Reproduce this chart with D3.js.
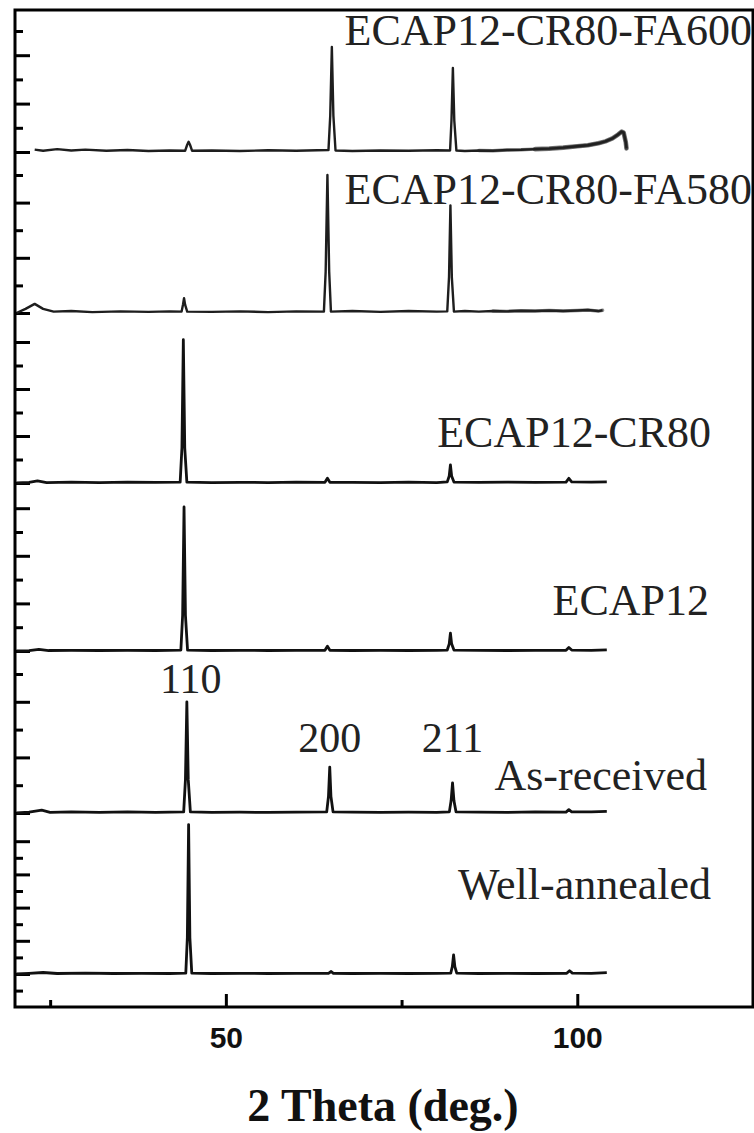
<!DOCTYPE html>
<html>
<head>
<meta charset="utf-8">
<script src="https://cdn.jsdelivr.net/npm/d3@7"></script>
<style>
  html, body { margin: 0; padding: 0; background: #fff; }
  svg { display: block; }
</style>
</head>
<body>
<svg id="chart" width="754" height="1133"></svg>
<script>
// XRD patterns of the steel samples, 2-theta in degrees vs. intensity (a.u.).
// Each trace is a list of [2theta, intensity] points; intensity is in units of
// one left-axis tick of that trace's own layer (0 = background level).

const sampleNames = [
  "ECAP12-CR80-FA600",
  "ECAP12-CR80-FA580",
  "ECAP12-CR80",
  "ECAP12",
  "As-received",
  "Well-annealed"
];

const traceFA600 = [
  [22.8,0.10],[24,0.05],[26,0.12],[28,0.06],[30,0.10],[33,0.05],[36,0.08],[39,0.04],
  [42,0.06],[44.2,0.05],[44.5,0.30],[44.7,0.42],[44.9,0.30],[45.2,0.05],[48,0.06],
  [52,0.04],[56,0.07],[60,0.05],[63,0.07],[64.6,0.08],[64.85,1.5],[65.08,4.34],
  [65.3,1.5],[65.6,0.06],[68,0.04],[72,0.06],[76,0.05],[80,0.07],[81.9,0.06],
  [82.1,1.3],[82.3,3.47],[82.5,1.3],[82.8,0.06],[84,0.04],[86,0.06],[88,0.05],
  [90,0.08],[92,0.09],[94,0.12],[96,0.14],[98,0.18],[100,0.24],[101.5,0.28],
  [103,0.36],[104,0.44],[105,0.56],[105.8,0.72],[106.3,0.84],[106.6,0.80],[106.9,0.40],[107,0.15]
];

const traceFA580 = [
  [20.2,0.00],[21.5,0.15],[22.8,0.33],[24,0.15],[25.5,0.05],[28,0.07],[31,0.03],
  [35,0.06],[39,0.04],[42,0.06],[43.7,0.05],[43.9,0.30],[44.05,0.54],[44.2,0.30],
  [44.5,0.05],[48,0.04],[52,0.06],[56,0.03],[60,0.06],[63.95,0.05],[64.2,1.5],
  [64.45,5.0],[64.7,1.5],[64.95,0.05],[68,0.07],[72,0.04],[76,0.07],[80,0.05],
  [81.5,0.06],[81.75,1.3],[81.95,3.9],[82.15,1.3],[82.45,0.05],[84,0.07],[86,0.05],
  [88,0.07],[90,0.06],[92,0.08],[94,0.07],[96,0.09],[98,0.07],[100,0.09],
  [101.5,0.11],[103,0.07],[103.6,0.10]
];

const traceECAP12CR80 = [
  [20.2,0.00],[22,0.03],[23.2,0.09],[24.5,0.02],[28,0.04],[32,0.02],[36,0.04],
  [40,0.03],[43.5,0.04],[43.75,1.5],[43.95,6.1],[44.15,1.5],[44.45,0.04],[48,0.02],
  [52,0.03],[56,0.02],[60,0.04],[64.1,0.03],[64.45,0.20],[64.8,0.03],[68,0.03],
  [72,0.02],[76,0.04],[80,0.02],[81.5,0.05],[81.78,0.30],[81.95,0.77],[82.12,0.30],
  [82.45,0.04],[86,0.03],[90,0.04],[94,0.03],[98.4,0.04],[98.8,0.20],[99.2,0.05],
  [102,0.04],[104.2,0.05]
];

const traceECAP12 = [
  [20.2,0.00],[22,0.02],[23.4,0.07],[24.8,0.02],[28,0.03],[32,0.02],[36,0.03],
  [40,0.02],[43.6,0.04],[43.85,1.5],[44.05,6.05],[44.25,1.5],[44.55,0.04],[48,0.02],
  [52,0.03],[56,0.02],[60,0.03],[64.1,0.03],[64.45,0.20],[64.8,0.03],[68,0.02],
  [72,0.03],[76,0.02],[80,0.03],[81.5,0.04],[81.78,0.30],[81.95,0.75],[82.12,0.30],
  [82.45,0.04],[86,0.03],[90,0.02],[94,0.03],[98.4,0.03],[98.8,0.15],[99.2,0.04],
  [102,0.03],[104.2,0.05]
];

const traceAsReceived = [
  [20.2,0.00],[22,0.03],[23.8,0.10],[25,0.02],[28,0.04],[32,0.02],[36,0.04],
  [40,0.02],[44.0,0.04],[44.25,1.2],[44.45,4.0],[44.65,1.2],[44.95,0.04],[48,0.02],
  [52,0.03],[56,0.02],[60,0.03],[64.35,0.04],[64.6,0.6],[64.78,1.65],[64.95,0.6],
  [65.25,0.04],[68,0.03],[72,0.02],[76,0.03],[80,0.02],[81.8,0.04],[82.05,0.45],
  [82.25,1.08],[82.45,0.45],[82.75,0.04],[86,0.03],[90,0.02],[94,0.04],[98.4,0.03],
  [98.8,0.12],[99.2,0.04],[102,0.04],[104.2,0.06]
];

const traceWellAnnealed = [
  [20.2,0.00],[22,0.04],[24,0.09],[26,0.03],[30,0.05],[34,0.03],[38,0.04],
  [42,0.03],[44.3,0.05],[44.52,2.2],[44.7,9.0],[44.88,2.2],[45.15,0.05],[48,0.03],
  [52,0.04],[56,0.03],[60,0.04],[64.6,0.04],[64.98,0.15],[65.3,0.04],[68,0.03],
  [72,0.04],[76,0.03],[80,0.04],[82.0,0.05],[82.22,0.45],[82.4,1.15],[82.58,0.45],
  [82.85,0.05],[86,0.03],[90,0.04],[94,0.03],[98.5,0.04],[98.9,0.20],[99.3,0.05],
  [102,0.04],[104.2,0.08]
];

const traces = [traceFA600, traceFA580, traceECAP12CR80, traceECAP12, traceAsReceived, traceWellAnnealed];

// Miller indices marked on the as-received pattern: [label, 2theta]
const reflections = [["110", 44.45], ["200", 64.78], ["211", 82.25]];

const xTickMajor = [50, 100];
const xTickMinor = [25, 75];
const xLabel = "2 Theta (deg.)";

// ---- layout ----
const frame = { left: 15, right: 753, top: 10, bottom: 1007 };
const svg = d3.select("#chart");

const x = d3.scaleLinear().domain([20, 125]).range([frame.left, frame.right]);

// every trace sits in its own layer: pixel of zero level, pixel per tick unit,
// and the tick indices drawn on the shared left spine
const layers = [
  { zero: 152, unit: 24.2, t0: 0,  t1: 5 },
  { zero: 313, unit: 27.6, t0: 0,  t1: 5 },
  { zero: 483, unit: 23.5, t0: 0,  t1: 6 },
  { zero: 651, unit: 23.8, t0: 0,  t1: 6 },
  { zero: 813, unit: 27.8, t0: 0,  t1: 5 },
  { zero: 974, unit: 16.6, t0: -1, t1: 8 }
];
const yScales = layers.map(l => d3.scaleLinear().domain([0, 1]).range([l.zero, l.zero - l.unit]));

// left spine ticks, long on even indices, short on odd ones, pointing inward
layers.forEach((l, i) => {
  const vals = d3.range(l.t0, l.t1 + 1);
  const major = vals.filter(v => v % 2 === 0);
  const minor = vals.filter(v => v % 2 !== 0);
  [[major, 15], [minor, 8]].forEach(([tv, len]) => {
    const g = svg.append("g")
      .attr("transform", `translate(${frame.left},0)`)
      .call(d3.axisRight(yScales[i]).tickValues(tv).tickSize(len).tickFormat(""));
    g.select(".domain").remove();
    g.selectAll("line").attr("stroke", "#000").attr("stroke-width", 3);
  });
});

// bottom axis, ticks pointing up into the plot
const gxMinor = svg.append("g")
  .attr("transform", `translate(0,${frame.bottom})`)
  .call(d3.axisBottom(x).tickValues(xTickMinor).tickSize(-7).tickFormat(""));
gxMinor.select(".domain").remove();
gxMinor.selectAll("line").attr("stroke", "#000").attr("stroke-width", 3);

const gx = svg.append("g")
  .attr("transform", `translate(0,${frame.bottom})`)
  .call(d3.axisBottom(x).tickValues(xTickMajor).tickSize(-13).tickPadding(20).tickFormat(d3.format("d")));
gx.select(".domain").remove();
gx.selectAll("line").attr("stroke", "#000").attr("stroke-width", 3);
gx.selectAll("text")
  .attr("font-family", "Arial, 'Liberation Sans', sans-serif")
  .attr("font-weight", "bold")
  .attr("font-size", 30)
  .attr("fill", "#111");

// the patterns
const line = d3.line().curve(d3.curveLinear);
traces.forEach((tr, i) => {
  const y = yScales[i];
  line.x(d => x(d[0])).y(d => y(d[1]));
  svg.append("path")
    .attr("d", line(tr))
    .attr("fill", "none")
    .attr("stroke", i < 2 ? "#1e1e1e" : "#111")
    .attr("stroke-width", i < 2 ? 2.4 : 2.8)
    .attr("stroke-linejoin", "round");
});

// high-angle background of the annealed sheets is noisy: a soft, wider band there
const noisyStretch = [
  { trace: 0, from: 86,  width: 3.4, opacity: 0.55 },
  { trace: 0, from: 94,  width: 4.6, opacity: 0.6 },
  { trace: 1, from: 88,  width: 3.4, opacity: 0.5 }
];
noisyStretch.forEach(s => {
  const y = yScales[s.trace];
  line.x(d => x(d[0])).y(d => y(d[1]));
  svg.append("path")
    .attr("d", line(traces[s.trace].filter(d => d[0] >= s.from)))
    .attr("fill", "none")
    .attr("stroke", "#222")
    .attr("stroke-opacity", s.opacity)
    .attr("stroke-width", s.width)
    .attr("stroke-linejoin", "round")
    .attr("stroke-linecap", "round");
});

// sample names
const serif = "'Times New Roman', 'Liberation Serif', serif";
const nameSpots = [
  { x: 752, y: 45 },
  { x: 752, y: 204 },
  { x: 711, y: 447 },
  { x: 709, y: 615 },
  { x: 707, y: 790 },
  { x: 711, y: 899 }
];
sampleNames.forEach((n, i) => {
  svg.append("text")
    .attr("x", nameSpots[i].x)
    .attr("y", nameSpots[i].y)
    .attr("text-anchor", "end")
    .attr("font-family", serif)
    .attr("font-size", 44)
    .attr("fill", "#222")
    .text(n);
});

// reflection labels above the as-received peaks
const reflY = [693, 752, 752];
reflections.forEach(([lab, th], i) => {
  svg.append("text")
    .attr("x", x(th) + (i === 0 ? 4 : 0))
    .attr("y", reflY[i])
    .attr("text-anchor", "middle")
    .attr("font-family", serif)
    .attr("font-size", 42)
    .attr("fill", "#222")
    .text(lab);
});

// frame
svg.append("rect")
  .attr("x", frame.left).attr("y", frame.top)
  .attr("width", frame.right - frame.left)
  .attr("height", frame.bottom - frame.top)
  .attr("fill", "none").attr("stroke", "#000").attr("stroke-width", 3);

// axis title
svg.append("text")
  .attr("x", 383).attr("y", 1121)
  .attr("text-anchor", "middle")
  .attr("font-family", serif)
  .attr("font-weight", "bold")
  .attr("font-size", 46)
  .attr("fill", "#111")
  .text(xLabel);
</script>
</body>
</html>
